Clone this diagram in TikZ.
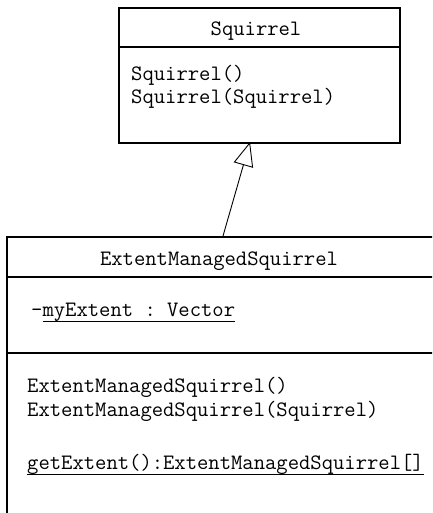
\documentclass[tikz,border=0pt]{standalone}
\usepackage{fontspec}
\usetikzlibrary{arrows.meta}
\frenchspacing
\newcommand{\myul}[1]{\setbox0\hbox{#1}\rlap{\rule[-5bp]{\wd0}{0.9bp}}\box0}
\tikzset{
  classbox/.style={draw, line width=2.1bp, inner sep=0pt, anchor=north west},
  divider/.style={line width=2.1bp},
  txt/.style={inner sep=0pt, anchor=base west, font=\ttfamily\frenchspacing\fontsize{22bp}{24bp}\selectfont},
  hdr/.style={inner sep=0pt, anchor=base, font=\ttfamily\frenchspacing\fontsize{22bp}{24bp}\selectfont},
  inherit/.style={line width=0.9bp, -{Triangle[open, length=24bp, width=20bp, fill=white]}}
}
\begin{document}
\begin{tikzpicture}[x=1bp,y=1bp]
\clip (0,0) rectangle (432,513);
\fill[white] (0,0) rectangle (432,513);
% Squirrel class
\node[classbox, minimum width=281bp, minimum height=135bp] (sq) at (117.5,506) {};
\coordinate (sqdl) at (117.5,466);
\coordinate (sqdr) at (398.5,466);
\draw[divider] (sqdl) -- (sqdr);
\node[hdr] (sqname) at (256,477) {Squirrel};
\node[txt] (sqc1) at (131,432) {Squirrel()};
\node[txt] (sqc2) at (131,409) {Squirrel(Squirrel)};
% ExtentManagedSquirrel class
\node[classbox, minimum width=450bp, minimum height=300bp] (ems) at (6,277) {};
\coordinate (emd1l) at (6,236);
\coordinate (emd1r) at (460,236);
\coordinate (emd2l) at (6,160);
\coordinate (emd2r) at (460,160);
\draw[divider] (emd1l) -- (emd1r);
\draw[divider] (emd2l) -- (emd2r);
\node[hdr] (emsname) at (219,247) {ExtentManagedSquirrel};
\node[txt] (emsa) at (31,196) {-\myul{myExtent : Vector}};
\node[txt] (emsc1) at (27,120) {ExtentManagedSquirrel()};
\node[txt] (emsc2) at (27,96.5) {ExtentManagedSquirrel(Squirrel)};
\node[txt] (emsm) at (27,43) {\myul{getExtent():ExtentManagedSquirrel[]}};
% generalization
\coordinate (from) at (223,277);
\coordinate (to) at (250,371);
\draw[inherit] (from) -- (to);
\end{tikzpicture}
\end{document}
